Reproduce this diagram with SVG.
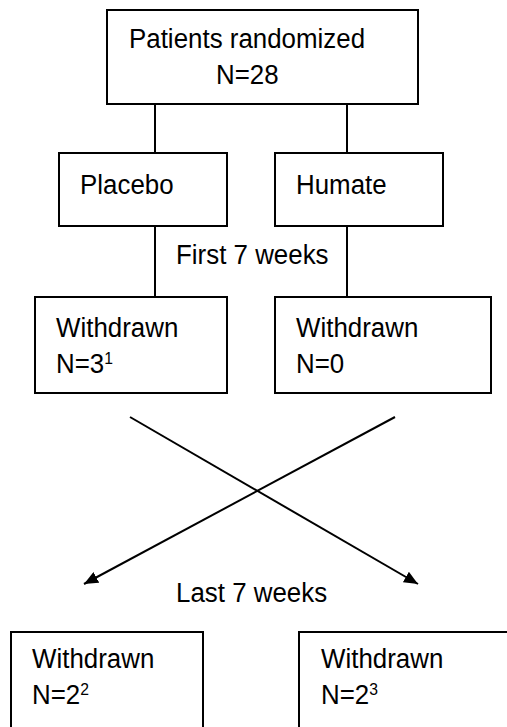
<svg xmlns="http://www.w3.org/2000/svg" width="507" height="727" viewBox="0 0 507 727">
<style>
.box{fill:#fff;stroke:#000;stroke-width:2}
.ln{stroke:#000;stroke-width:2;fill:none}
text{font-family:"Liberation Sans",Arial,sans-serif;font-size:28px;fill:#000}
.sup{font-size:17px}
</style>
<defs>
<marker id="ah" viewBox="0 0 14 12" refX="14" refY="6" markerWidth="14" markerHeight="12" markerUnits="userSpaceOnUse" orient="auto">
<path d="M0,0 L14,6 L0,12 Z" fill="#000"/>
</marker>
</defs>
<rect width="507" height="727" fill="#fff"/>
<g id="connectors">
<line class="ln" x1="155" y1="104" x2="155" y2="153"/>
<line class="ln" x1="347" y1="104" x2="347" y2="153"/>
<line class="ln" x1="155" y1="226" x2="155" y2="297"/>
<line class="ln" x1="347" y1="226" x2="347" y2="297"/>
<line class="ln" x1="130" y1="417" x2="418" y2="584" marker-end="url(#ah)"/>
<line class="ln" x1="395" y1="417" x2="84" y2="584" marker-end="url(#ah)"/>
</g>
<g id="randomized">
<rect class="box" x="107" y="10" width="311" height="94"/>
<text transform="translate(129,48) scale(0.925,1)">Patients randomized</text>
<text transform="translate(216,84) scale(0.925,1)">N=28</text>
</g>
<g id="placebo">
<rect class="box" x="59" y="153" width="168" height="73"/>
<text transform="translate(80,194) scale(0.925,1)">Placebo</text>
</g>
<g id="humate">
<rect class="box" x="275" y="153" width="168" height="73"/>
<text transform="translate(296,194) scale(0.925,1)">Humate</text>
</g>
<g id="label-first">
<text transform="translate(176,264) scale(0.925,1)">First 7 weeks</text>
</g>
<g id="withdrawn-placebo">
<rect class="box" x="35" y="297" width="192" height="96"/>
<text transform="translate(56,337) scale(0.925,1)">Withdrawn</text>
<text transform="translate(56,373) scale(0.925,1)">N=3<tspan class="sup" dy="-9">1</tspan></text>
</g>
<g id="withdrawn-humate">
<rect class="box" x="275" y="297" width="216" height="96"/>
<text transform="translate(296,337) scale(0.925,1)">Withdrawn</text>
<text transform="translate(296,373) scale(0.925,1)">N=0</text>
</g>
<g id="label-last">
<text transform="translate(176,602) scale(0.925,1)">Last 7 weeks</text>
</g>
<g id="withdrawn-left">
<rect class="box" x="11" y="632" width="192" height="110"/>
<text transform="translate(32,668) scale(0.925,1)">Withdrawn</text>
<text transform="translate(32,704) scale(0.925,1)">N=2<tspan class="sup" dy="-9">2</tspan></text>
</g>
<g id="withdrawn-right">
<rect class="box" x="299" y="632" width="220" height="110"/>
<text transform="translate(321,668) scale(0.925,1)">Withdrawn</text>
<text transform="translate(321,704) scale(0.925,1)">N=2<tspan class="sup" dy="-9">3</tspan></text>
</g>
</svg>
